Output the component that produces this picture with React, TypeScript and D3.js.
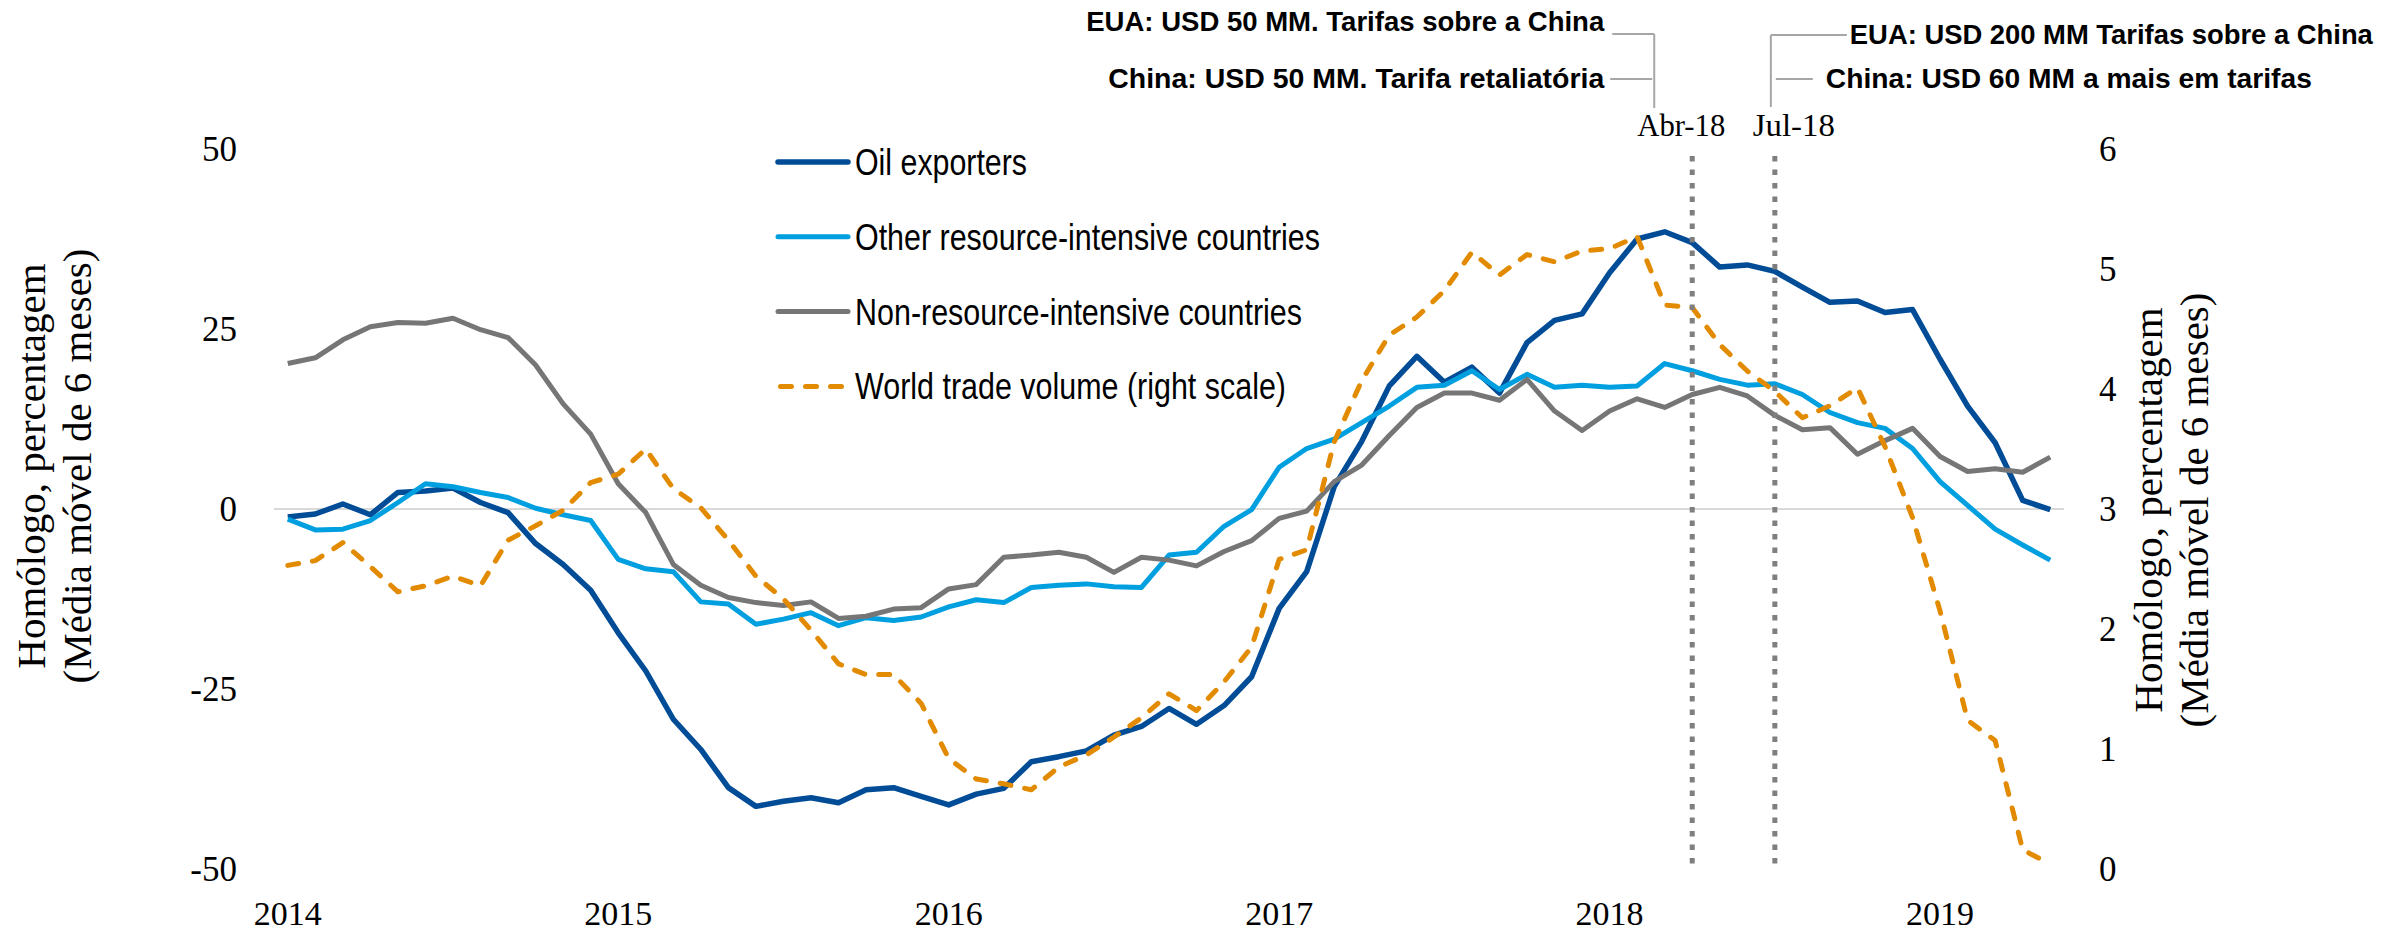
import React from "react";
import * as d3 from "d3";

// monthly, Jan 2014 .. May 2019 (left scale, %)
const oilExporters = [
  -1.1, -0.7, 0.7, -0.8, 2.3, 2.5, 2.9, 0.9, -0.5, -4.8, -7.7, -11.3,
  -17.2, -22.5, -29.2, -33.4, -38.7, -41.3, -40.6, -40.1, -40.8, -39.0, -38.7, -39.9,
  -41.1, -39.6, -38.8, -35.1, -34.4, -33.6, -31.4, -30.2, -27.7, -29.9, -27.3, -23.3,
  -13.8, -8.7, 3.1, 9.4, 17.1, 21.2, 17.6, 19.7, 16.1, 23.1, 26.2, 27.1,
  32.8, 37.5, 38.5, 37.0, 33.6, 33.9, 33.0, 30.8, 28.7, 28.9, 27.3, 27.7,
  20.8, 14.3, 9.2, 1.2, -0.1,
];
const otherResource = [
  -1.4, -2.9, -2.8, -1.6, 0.9, 3.5, 3.1, 2.3, 1.6, 0.1, -0.8, -1.6,
  -7.0, -8.3, -8.7, -12.9, -13.2, -16.0, -15.3, -14.4, -16.2, -15.1, -15.5, -15.0,
  -13.6, -12.6, -13.0, -10.9, -10.6, -10.4, -10.8, -10.9, -6.4, -6.0, -2.4, -0.1,
  5.8, 8.4, 9.7, 12.0, 14.3, 16.9, 17.2, 19.2, 16.6, 18.7, 16.9, 17.2,
  16.9, 17.1, 20.2, 19.2, 18.0, 17.2, 17.4, 15.9, 13.4, 12.0, 11.2, 8.4,
  3.8, 0.5, -2.8, -5.0, -7.1,
];
const nonResource = [
  20.2, 21.0, 23.5, 25.3, 25.9, 25.8, 26.5, 24.9, 23.8, 20.0, 14.6, 10.4,
  3.5, -0.5, -7.7, -10.6, -12.3, -13.0, -13.4, -12.9, -15.2, -14.9, -13.9, -13.7,
  -11.1, -10.5, -6.7, -6.4, -6.0, -6.7, -8.8, -6.7, -7.1, -7.9, -5.9, -4.4,
  -1.3, -0.3, 3.8, 6.1, 10.2, 14.1, 16.1, 16.1, 15.1, 18.0, 13.6, 10.9,
  13.6, 15.3, 14.1, 15.9, 16.9, 15.7, 13.0, 11.0, 11.3, 7.6, 9.5, 11.2,
  7.3, 5.2, 5.6, 5.1, 7.2,
];
// right scale
const worldTrade = [
  2.53, 2.57, 2.72, 2.52, 2.31, 2.36, 2.44, 2.36, 2.74, 2.86, 2.99, 3.22,
  3.29, 3.5, 3.17, 3.01, 2.74, 2.44, 2.25, 1.99, 1.71, 1.62, 1.62, 1.38,
  0.92, 0.75, 0.71, 0.66, 0.85, 0.95, 1.1, 1.26, 1.46, 1.32, 1.56, 1.85,
  2.58, 2.66, 3.56, 4.07, 4.45, 4.6, 4.82, 5.14, 4.95, 5.12, 5.06, 5.15,
  5.17, 5.27, 4.7, 4.68, 4.37, 4.15, 3.98, 3.76, 3.86, 4.01, 3.52, 2.93,
  2.15, 1.24, 1.07, 0.16, 0.04,
];

const months = d3
  .timeMonths(new Date(2014, 0, 1), new Date(2019, 5, 1))
  .map(d3.timeFormat("%Y-%m"));
const years = ["2014", "2015", "2016", "2017", "2018", "2019"];
const leftTicks = [50, 25, 0, -25, -50];
const rightTicks = [6, 5, 4, 3, 2, 1, 0];

const seriesNames = [
  "Oil exporters",
  "Other resource-intensive countries",
  "Non-resource-intensive countries",
  "World trade volume (right scale)",
];
const events = [
  { month: "2018-04", label: "Abr-18" },
  { month: "2018-07", label: "Jul-18" },
];
const notesApr = ["EUA: USD 50 MM. Tarifas sobre a China", "China: USD 50 MM. Tarifa retaliatória"];
const notesJul = ["EUA: USD 200 MM Tarifas sobre a China", "China: USD 60 MM a mais em tarifas"];
const yTitle = ["Homólogo, percentagem", "(Média móvel de 6 meses)"];

const W = 2386;
const H = 934;
const plot = { left: 274, right: 2064, top: 149, bottom: 869 };

const serif = "'Liberation Serif', 'Times New Roman', serif";
const narrow = "'Liberation Sans Narrow', 'Arial Narrow', 'Liberation Sans', sans-serif";

const styles = [
  { color: "#004C97", width: 5.5, dash: null },
  { color: "#009FDF", width: 5, dash: null },
  { color: "#767676", width: 5, dash: null },
  { color: "#E28A00", width: 5, dash: "11 14" },
];
const legendWidths = [172, 465, 447, 431];

export default function App() {
  const x = d3.scalePoint<string>().domain(months).range([plot.left, plot.right]).padding(0.5);
  const yL = d3.scaleLinear().domain([-50, 50]).range([plot.bottom, plot.top]);
  const yR = d3.scaleLinear().domain([0, 6]).range([plot.bottom, plot.top]);

  const lineL = d3
    .line<number>()
    .x((_, i) => x(months[i]) as number)
    .y((d) => yL(d));
  const lineR = d3
    .line<number>()
    .x((_, i) => x(months[i]) as number)
    .y((d) => yR(d));

  const paths = [
    lineL(oilExporters),
    lineL(otherResource),
    lineL(nonResource),
    lineR(worldTrade),
  ];

  const xApr = x(events[0].month) as number;
  const xJul = x(events[1].month) as number;
  const connector = { stroke: "#a6a6a6", strokeWidth: 2 };

  return (
    <svg
      width={W}
      height={H}
      style={{ position: "absolute", left: 0, top: 0, background: "#fff" }}
    >
      {/* zero line */}
      <line
        x1={plot.left}
        x2={plot.right}
        y1={yL(0)}
        y2={yL(0)}
        stroke="#d9d9d9"
        strokeWidth={2}
      />

      {/* series */}
      {paths.map((d, i) => (
        <path
          key={seriesNames[i]}
          d={d || ""}
          fill="none"
          stroke={styles[i].color}
          strokeWidth={styles[i].width}
          strokeLinejoin="round"
          strokeLinecap={styles[i].dash ? "round" : "butt"}
          strokeDasharray={styles[i].dash || undefined}
        />
      ))}

      {/* event markers */}
      {events.map((e) => (
        <line
          key={e.month}
          x1={x(e.month)}
          x2={x(e.month)}
          y1={156}
          y2={866}
          stroke="#7f7f7f"
          strokeWidth={5}
          strokeDasharray="5.5 8"
        />
      ))}
      <text x={xApr - 11} y={136} fontFamily={serif} fontSize={32} textAnchor="middle"
        textLength={88} lengthAdjust="spacingAndGlyphs">
        {events[0].label}
      </text>
      <text x={xJul + 19} y={136} fontFamily={serif} fontSize={32} textAnchor="middle"
        textLength={82} lengthAdjust="spacingAndGlyphs">
        {events[1].label}
      </text>

      {/* annotations */}
      <line x1={xApr - 38} x2={xApr - 38} y1={34} y2={108} {...connector} />
      <line x1={xApr - 80} x2={xApr - 38} y1={34} y2={34} {...connector} />
      <line x1={xApr - 82} x2={xApr - 40} y1={79} y2={79} {...connector} />
      <text x={xApr - 88} y={31} fontFamily={narrow} fontWeight="bold" fontSize={27}
        textAnchor="end" textLength={518} lengthAdjust="spacingAndGlyphs">
        {notesApr[0]}
      </text>
      <text x={xApr - 88} y={88} fontFamily={narrow} fontWeight="bold" fontSize={27}
        textAnchor="end" textLength={496} lengthAdjust="spacingAndGlyphs">
        {notesApr[1]}
      </text>

      <line x1={xJul - 4} x2={xJul - 4} y1={35} y2={107} {...connector} />
      <line x1={xJul - 4} x2={xJul + 72} y1={35} y2={35} {...connector} />
      <line x1={xJul + 1} x2={xJul + 38} y1={79} y2={79} {...connector} />
      <text x={xJul + 75} y={44} fontFamily={narrow} fontWeight="bold" fontSize={27}
        textLength={523} lengthAdjust="spacingAndGlyphs">
        {notesJul[0]}
      </text>
      <text x={xJul + 51} y={88} fontFamily={narrow} fontWeight="bold" fontSize={27}
        textLength={486} lengthAdjust="spacingAndGlyphs">
        {notesJul[1]}
      </text>

      {/* axes labels */}
      {leftTicks.map((t) => (
        <text key={"l" + t} x={237} y={yL(t) + 12} fontFamily={serif} fontSize={35} textAnchor="end">
          {t}
        </text>
      ))}
      {rightTicks.map((t) => (
        <text key={"r" + t} x={2099} y={yR(t) + 12} fontFamily={serif} fontSize={35}>
          {t}
        </text>
      ))}
      {years.map((yr) => (
        <text key={yr} x={x(yr + "-01")} y={925} fontFamily={serif} fontSize={34} textAnchor="middle">
          {yr}
        </text>
      ))}

      {/* axis titles */}
      <g transform="translate(45,466) rotate(-90)" fontFamily={serif} fontSize={41} textAnchor="middle">
        <text>{yTitle[0]}</text>
        <text y={46}>{yTitle[1]}</text>
      </g>
      <g transform="translate(2162,510) rotate(-90)" fontFamily={serif} fontSize={41} textAnchor="middle">
        <text>{yTitle[0]}</text>
        <text y={46}>{yTitle[1]}</text>
      </g>

      {/* legend */}
      {seriesNames.map((name, i) => {
        const ly = 162 + i * 74.8;
        return (
          <g key={name}>
            <line
              x1={styles[i].dash ? 780.5 : 778}
              x2={styles[i].dash ? 846 : 848}
              y1={ly}
              y2={ly}
              stroke={styles[i].color}
              strokeWidth={styles[i].width}
              strokeLinecap="round"
              strokeDasharray={styles[i].dash || undefined}
            />
            <text x={855} y={ly + 13} fontFamily={narrow} fontSize={37}
              textLength={legendWidths[i]} lengthAdjust="spacingAndGlyphs">
              {name}
            </text>
          </g>
        );
      })}
    </svg>
  );
}
